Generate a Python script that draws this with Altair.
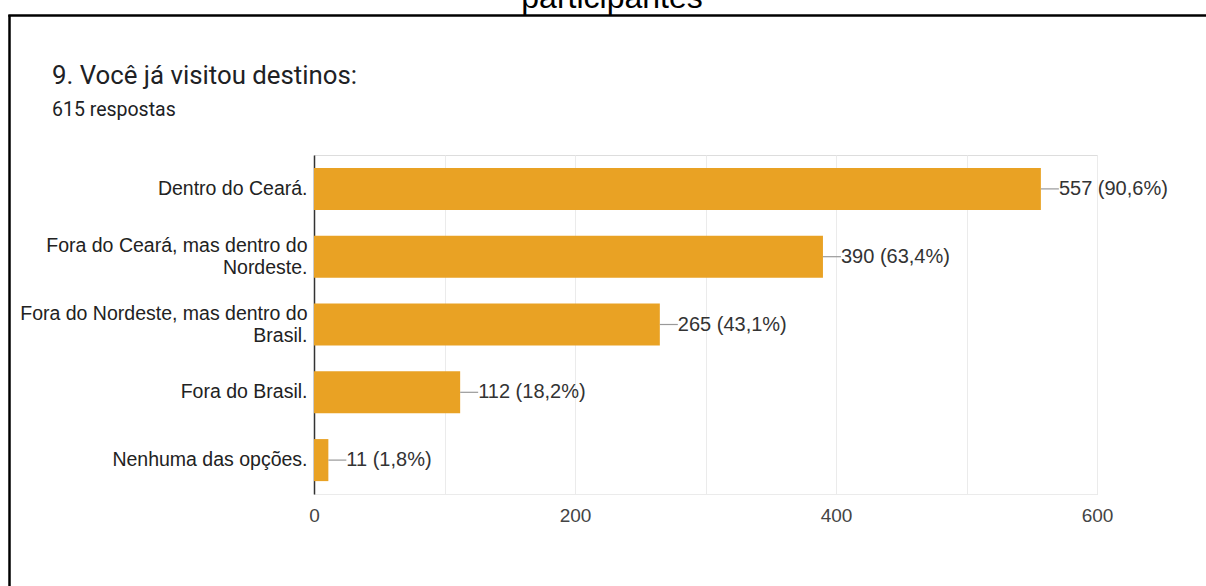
import altair as alt
import pandas as pd

categories = [
    "Dentro do Ceará.",
    "Fora do Ceará, mas dentro do|Nordeste.",
    "Fora do Nordeste, mas dentro do|Brasil.",
    "Fora do Brasil.",
    "Nenhuma das opções.",
]
counts = [557, 390, 265, 112, 11]
percents = ["90,6%", "63,4%", "43,1%", "18,2%", "1,8%"]
x_ticks = [0, 100, 200, 300, 400, 500, 600]

df = pd.DataFrame({"cat": categories, "n": counts, "pct": percents})
df["label"] = df["n"].astype(str) + " (" + df["pct"] + ")"

W, H = 783, 339
PL, PT = 314, 155

x_enc = alt.X(
    "n:Q",
    scale=alt.Scale(domain=[0, 600], nice=False),
    axis=alt.Axis(
        values=x_ticks,
        labelExpr="datum.value % 200 === 0 ? datum.label : ''",
        title=None,
        ticks=False,
        labelFlush=False,
        labelPadding=12,
        labelFontSize=19,
        labelFont="Liberation Sans",
        labelColor="#444444",
        grid=True,
        gridColor="#EBEBEB",
        gridWidth=1,
        domainColor="#EBEBEB",
        domainWidth=1,
    ),
)
y_enc = alt.Y(
    "cat:N",
    sort=categories,
    scale=alt.Scale(paddingInner=0.38, paddingOuter=0.19),
    axis=alt.Axis(
        title=None,
        ticks=False,
        labelPadding=7,
        labelFontSize=19.5,
        labelFont="Liberation Sans",
        labelColor="#222222",
        labelExpr="split(datum.label, '|')",
        labelLineHeight=22,
        labelOffset=alt.condition("indexof(datum.value, '|') >= 0", alt.value(-11), alt.value(0)),
        labelLimit=400,
        grid=False,
        domainColor="#333333",
        domainWidth=1.5,
    ),
)

base = alt.Chart(df)
bars = base.mark_bar(color="#E9A224").encode(x=x_enc, y=y_enc)
leaders = base.mark_rule(color="#999999", strokeWidth=1.2, x2Offset=18).encode(
    x=alt.X("n:Q"), x2=alt.X2("n"), y=alt.Y("cat:N", sort=categories)
)
values = base.mark_text(
    align="left", baseline="middle", dx=18, fontSize=20,
    font="Liberation Sans", color="#333333"
).encode(x="n:Q", y=alt.Y("cat:N", sort=categories), text="label:N")

one = alt.Data(values=[{"k": 1}])
border_left = alt.Chart(one).mark_rule(color="#000000", strokeWidth=2.5).encode(
    x=alt.value(9.5 - PL), y=alt.value(15 - PT), y2=alt.value(586 - PT)
)
border_top = alt.Chart(one).mark_rule(color="#000000", strokeWidth=2.5).encode(
    x=alt.value(8.3 - PL), x2=alt.value(1206 - PL), y=alt.value(15.5 - PT)
)
title = alt.Chart(one).mark_text(
    text="9. Você já visitou destinos:", align="left", baseline="alphabetic",
    font="Roboto", fontSize=25.8, color="#202124"
).encode(x=alt.value(52 - PL), y=alt.value(84 - PT))
subtitle = alt.Chart(one).mark_text(
    text="615 respostas", align="left", baseline="alphabetic",
    font="Roboto", fontSize=19.5, color="#202124"
).encode(x=alt.value(52 - PL), y=alt.value(116 - PT))
doc_title = alt.Chart(one).mark_text(
    text="participantes", align="center", baseline="alphabetic",
    font="Liberation Sans", fontSize=32, color="#000000"
).encode(x=alt.value(612 - PL), y=alt.value(8 - PT))

chart = alt.layer(
    bars, leaders, values, border_left, border_top, title, subtitle, doc_title
).properties(
    width=W, height=H,
    autosize=alt.AutoSizeParams(type="none"),
    padding={"left": PL, "top": PT, "right": 1206 - PL - W, "bottom": 586 - PT - H},
).configure_view(stroke="#EBEBEB", strokeWidth=1).configure(background="white")

chart.save("out.html", embed_options={"renderer": "svg", "actions": False})
